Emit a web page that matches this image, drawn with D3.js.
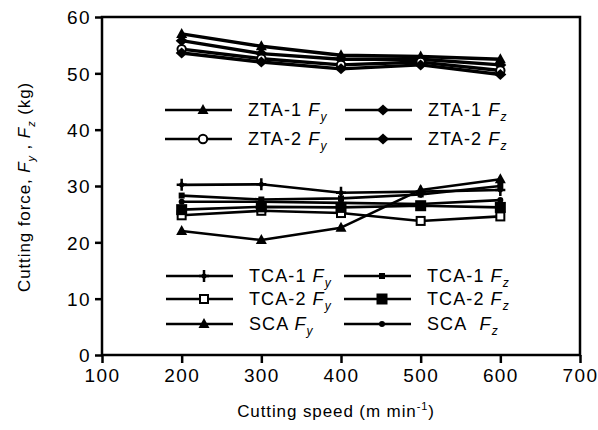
<!DOCTYPE html>
<html><head><meta charset="utf-8">
<script src="https://cdn.jsdelivr.net/npm/d3@7"></script>
<style>body{margin:0;background:#fff}svg{display:block}text{font-family:"Liberation Sans",Arial,sans-serif;fill:#000}</style>
</head><body>
<svg id="c" width="598" height="430"></svg>
<script>
const speeds = [200, 300, 400, 500, 600];
const xTicks = [100, 200, 300, 400, 500, 600, 700];
const yTicks = [0, 10, 20, 30, 40, 50, 60];

const zta1Fy = [57.0, 54.8, 53.2, 53.0, 52.5];
const zta1Fz = [55.8, 53.5, 52.5, 52.5, 51.5];
const zta2Fy = [54.3, 52.6, 51.5, 52.0, 50.5];
const zta2Fz = [53.6, 52.0, 50.8, 51.5, 49.8];
const tca1Fy = [30.2, 30.3, 28.8, 29.0, 29.3];
const tca1Fz = [28.3, 27.6, 27.8, 28.5, 30.0];
const tca2Fy = [24.8, 25.6, 25.2, 23.8, 24.6];
const tca2Fz = [25.8, 26.3, 26.2, 26.5, 26.2];
const scaFy  = [22.0, 20.4, 22.6, 29.3, 31.2];
const scaFz  = [27.2, 27.2, 27.0, 26.8, 27.5];

const series = [
  {name:"ZTA-1", f:"y", v:zta1Fy, m:"tri", w:3.4},
  {name:"ZTA-1", f:"z", v:zta1Fz, m:"dia", w:3.4},
  {name:"ZTA-2", f:"y", v:zta2Fy, m:"circ", w:3.4},
  {name:"ZTA-2", f:"z", v:zta2Fz, m:"dia", w:3.4},
  {name:"TCA-1", f:"y", v:tca1Fy, m:"plus", w:2.6},
  {name:"TCA-1", f:"z", v:tca1Fz, m:"sq", w:2.6},
  {name:"TCA-2", f:"y", v:tca2Fy, m:"osq", w:2.6},
  {name:"TCA-2", f:"z", v:tca2Fz, m:"bsq", w:2.6},
  {name:"SCA", f:"y", v:scaFy, m:"tri", w:2.6},
  {name:"SCA\u00a0", f:"z", v:scaFz, m:"dot", w:2.6}
];

const svg = d3.select("#c");
const x = d3.scaleLinear().domain([100, 700]).range([102, 580]);
const y = d3.scaleLinear().domain([0, 60]).range([355, 17]);

function marker(g, type, cx, cy) {
  const s = g.append("g").attr("transform", `translate(${cx},${cy})`);
  if (type === "tri") s.append("path").attr("d", "M0,-6L5.5,4L-5.5,4Z").attr("fill", "#000");
  else if (type === "dia") s.append("path").attr("d", "M0,-5.5L6,0L0,5.5L-6,0Z").attr("fill", "#000");
  else if (type === "circ") s.append("circle").attr("r", 4.2).attr("fill", "#fff").attr("stroke", "#000").attr("stroke-width", 2);
  else if (type === "plus") { s.append("path").attr("d", "M0,-6V6M-5,0H5").attr("stroke", "#000").attr("stroke-width", 2.5); s.append("circle").attr("r", 2.5).attr("fill", "#000"); }
  else if (type === "sq") s.append("rect").attr("x", -3).attr("y", -3).attr("width", 6).attr("height", 6).attr("fill", "#000");
  else if (type === "osq") s.append("rect").attr("x", -4).attr("y", -4).attr("width", 8).attr("height", 8).attr("fill", "#fff").attr("stroke", "#000").attr("stroke-width", 2);
  else if (type === "bsq") s.append("rect").attr("x", -5.5).attr("y", -5.5).attr("width", 11).attr("height", 11).attr("fill", "#000");
  else if (type === "dot") s.append("circle").attr("r", 3).attr("fill", "#000");
}

// frame
svg.append("rect").attr("x", 102).attr("y", 17).attr("width", 478).attr("height", 338)
  .attr("fill", "none").attr("stroke", "#000").attr("stroke-width", 2.5);

// axes
const xAxis = svg.append("g").attr("transform", "translate(0,355)")
  .call(d3.axisBottom(x).tickValues(xTicks).tickSize(8).tickPadding(6).tickFormat(d3.format("d")));
const yAxis = svg.append("g").attr("transform", "translate(102,0)")
  .call(d3.axisLeft(y).tickValues(yTicks).tickSize(7).tickPadding(4).tickFormat(d3.format("d")));
[xAxis, yAxis].forEach(a => {
  a.select(".domain").remove();
  a.selectAll("line").attr("stroke", "#000").attr("stroke-width", 2.5);
  a.selectAll("text").attr("font-size", 19).attr("letter-spacing", 1.4)
    .attr("font-family", "Liberation Sans, Arial, sans-serif");
});
yAxis.selectAll("text").attr("dy", "0.36em");

// lines
const line = d3.line().x((d, i) => x(speeds[i])).y(d => y(d));
series.forEach(s => {
  svg.append("path").datum(s.v).attr("d", line).attr("fill", "none")
    .attr("stroke", "#000").attr("stroke-width", s.w).attr("stroke-linejoin", "round");
});
series.forEach(s => {
  s.v.forEach((d, i) => marker(svg, s.m, x(speeds[i]), y(d)));
});

// legends
const legRows = [
  [{s:0, x:165, y:110}, {s:1, x:345, y:110}],
  [{s:2, x:165, y:139}, {s:3, x:345, y:139}],
  [{s:4, x:166, y:276}, {s:5, x:344, y:276}],
  [{s:6, x:166, y:299}, {s:7, x:344, y:299}],
  [{s:8, x:166, y:324}, {s:9, x:344, y:324}]
];
legRows.flat().forEach(e => {
  const s = series[e.s];
  svg.append("line").attr("x1", e.x).attr("x2", e.x + 67).attr("y1", e.y).attr("y2", e.y)
    .attr("stroke", "#000").attr("stroke-width", 2.5);
  marker(svg, s.m, e.x + 38, e.y);
  const t = svg.append("text").attr("x", e.x + 83).attr("y", e.y + 6).attr("font-size", 18).attr("letter-spacing", 1.1);
  t.append("tspan").text(s.name + " ");
  t.append("tspan").attr("font-style", "italic").text("F");
  t.append("tspan").attr("font-size", 12).attr("dy", 5).attr("font-style", "italic").text(s.f);
});

// axis titles
const xt = svg.append("text").attr("x", 336).attr("y", 417).attr("text-anchor", "middle").attr("font-size", 17).attr("letter-spacing", 0.9);
xt.append("tspan").text("Cutting speed (m min");
xt.append("tspan").attr("font-size", 11).attr("dy", -7).text("-1");
xt.append("tspan").attr("dy", 7).text(")");

const yt = svg.append("text").attr("transform", "translate(30,187) rotate(-90)").attr("text-anchor", "middle").attr("font-size", 17).attr("letter-spacing", 0.9);
yt.append("tspan").text("Cutting force, ");
yt.append("tspan").attr("font-style", "italic").text("F");
yt.append("tspan").attr("font-size", 11).attr("dy", 5).attr("font-style", "italic").text("y");
yt.append("tspan").attr("dy", -5).text(" , ");
yt.append("tspan").attr("font-style", "italic").text("F");
yt.append("tspan").attr("font-size", 11).attr("dy", 5).attr("font-style", "italic").text("z");
yt.append("tspan").attr("dy", -5).text(" (kg)");
</script>
</body></html>
